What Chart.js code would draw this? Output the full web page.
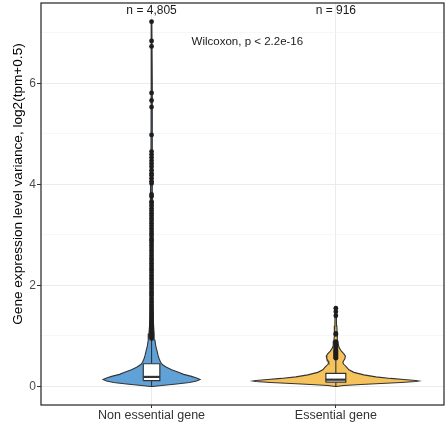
<!DOCTYPE html>
<html><head><meta charset="utf-8">
<script src="https://cdn.jsdelivr.net/npm/chart.js@4.4.1/dist/chart.umd.min.js"></script>
<style>html,body{margin:0;padding:0;background:#fff}#wrap{width:445px;height:426px}</style>
</head><body><div id="wrap"><canvas id="c" width="445" height="426"></canvas></div>
<script>
// ---------- data ----------
const categories = ['Non essential gene', 'Essential gene'];
const groupCounts = ['n = 4,805', 'n = 916'];
const testLabel = 'Wilcoxon, p < 2.2e-16';
const yTitle = 'Gene expression level variance, log2(tpm+0.5)';
const yTicks = [0, 1, 2, 3, 4, 5, 6, 7];

// violin outline: value and half-width (density, in category units)
const nonEssViolinY = [0.00,0.02,0.05,0.08,0.11,0.14,0.17,0.20,0.24,0.28,0.33,0.38,0.43,0.48,0.55,0.62,0.70,0.80,0.92,1.05,1.20,1.50,2.00,3.00,4.50,6.00,7.22];
const nonEssViolinW = [0.005,0.054,0.136,0.206,0.244,0.263,0.244,0.217,0.174,0.146,0.109,0.081,0.060,0.049,0.041,0.035,0.030,0.023,0.018,0.014,0.011,0.0076,0.0054,0.0043,0.0033,0.0027,0.0016];
const essViolinY = [0.00,0.02,0.04,0.06,0.08,0.10,0.11,0.12,0.14,0.16,0.19,0.23,0.28,0.33,0.39,0.44,0.47,0.50,0.55,0.60,0.65,0.70,0.76,0.82,0.90,1.00,1.20,1.40,1.55];
const essViolinW = [0.0027,0.043,0.136,0.244,0.353,0.434,0.45,0.434,0.369,0.298,0.217,0.152,0.098,0.071,0.057,0.043,0.038,0.041,0.049,0.052,0.043,0.030,0.019,0.014,0.011,0.008,0.0054,0.0043,0.0022];

// box stats: [lower whisker, Q1, median, Q3, upper whisker]
const nonEssBox = [0.0, 0.115, 0.19, 0.45, 0.945];
const essBox = [0.0, 0.085, 0.135, 0.26, 0.555];

const nonEssOutliers = [0.95,0.98,1.01,1.04,1.08,1.11,1.15,1.19,1.22,1.26,1.30,1.34,1.38,1.42,1.46,1.50,1.54,1.58,1.62,1.67,1.71,1.75,1.80,1.84,1.88,1.93,1.97,2.02,2.06,2.11,2.15,2.20,2.25,2.30,2.34,2.39,2.44,2.49,2.54,2.59,2.64,2.69,2.74,2.79,2.84,2.89,2.92,2.98,3.03,3.08,3.13,3.18,3.23,3.28,3.33,3.38,3.43,3.48,3.53,3.58,3.63,3.66,3.76,3.80,4.02,4.06,4.12,4.18,4.22,4.28,4.35,4.41,4.47,4.53,4.59,4.65,4.98,5.53,5.66,5.81,6.73,6.84,7.22];
const essOutliers = [0.56,0.58,0.60,0.62,0.64,0.66,0.68,0.70,0.72,0.74,0.76,0.78,0.80,0.83,0.86,0.89,1.03,1.05,1.40,1.48,1.55];

// ---------- styling ----------
const fills = ['#60a2d8', '#f5c25c'];
const outline = '#333333';
const boxHalf = [0.045, 0.054];
const AREA = {left: 41, right: 444, top: 3, bottom: 405};

function violin(cx, ys, ws) {
  const pts = ys.map((y, i) => ({x: cx + ws[i], y}));
  for (let i = ys.length - 1; i >= 0; i--) pts.push({x: cx - ws[i], y: ys[i]});
  pts.push({x: cx + ws[0], y: ys[0]});
  return pts;
}
function rect(cx, hw, lo, hi) {
  return [{x: cx - hw, y: lo}, {x: cx + hw, y: lo}, {x: cx + hw, y: hi}, {x: cx - hw, y: hi}, {x: cx - hw, y: lo}];
}

const groups = [
  {vy: nonEssViolinY, vw: nonEssViolinW, box: nonEssBox, out: nonEssOutliers},
  {vy: essViolinY, vw: essViolinW, box: essBox, out: essOutliers}
];
const datasets = [];
groups.forEach((g, i) => {
  const cx = i + 1;
  const hw = boxHalf[i];
  datasets.push({type: 'line', data: violin(cx, g.vy, g.vw), fill: 'shape', backgroundColor: fills[i],
    borderColor: outline, borderWidth: 1.1, pointRadius: 0, tension: 0, order: 10});
  datasets.push({type: 'line', data: [{x: cx, y: g.box[0]}, {x: cx, y: g.box[1]}], borderColor: outline, borderWidth: 1.1, pointRadius: 0, fill: false, order: 8});
  datasets.push({type: 'line', data: [{x: cx, y: g.box[3]}, {x: cx, y: g.box[4]}], borderColor: outline, borderWidth: 1.1, pointRadius: 0, fill: false, order: 8});
  datasets.push({type: 'line', data: rect(cx, hw, g.box[1], g.box[3]), fill: 'shape', backgroundColor: '#ffffff',
    borderColor: outline, borderWidth: 1.2, pointRadius: 0, tension: 0, order: 7});
  datasets.push({type: 'line', data: [{x: cx - hw, y: g.box[2]}, {x: cx + hw, y: g.box[2]}], borderColor: outline, borderWidth: 2.2, pointRadius: 0, fill: false, order: 6});
  datasets.push({type: 'scatter', data: g.out.map(v => ({x: cx, y: v})), pointRadius: 2.4, pointBackgroundColor: '#1e1e1e',
    pointBorderWidth: 0, borderWidth: 0, showLine: false, order: 1});
});

const FONT = "'Liberation Sans', Arial, Helvetica, sans-serif";
Chart.defaults.font.family = FONT;

const areaPlugin = {
  id: 'fixArea',
  afterLayout(chart) {
    const ca = chart.chartArea, xs = chart.scales.x, ys = chart.scales.y;
    ca.left = AREA.left; ca.right = AREA.right; ca.top = AREA.top; ca.bottom = AREA.bottom;
    ca.width = ca.right - ca.left; ca.height = ca.bottom - ca.top;
    xs.left = ca.left; xs.right = ca.right; xs.width = ca.width;
    xs.top = ca.bottom; xs.bottom = ca.bottom + 21; xs.height = 21;
    xs.configure();
    ys.top = ca.top; ys.bottom = ca.bottom; ys.height = ca.height;
    ys.left = 0; ys.right = ca.left; ys.width = ca.left;
    ys.configure();
  }
};

const framePlugin = {
  id: 'frame',
  afterDraw(chart) {
    const {ctx, chartArea: a, scales} = chart;
    ctx.save();
    ctx.strokeStyle = '#333333';
    ctx.lineWidth = 1.3;
    ctx.strokeRect(a.left, a.top, a.right - a.left, a.bottom - a.top);
    ctx.fillStyle = '#1a1a1a';
    ctx.font = '12px ' + FONT;
    ctx.textAlign = 'center';
    ctx.textBaseline = 'middle';
    groupCounts.forEach((t, i) => {
      ctx.fillText(t, scales.x.getPixelForValue(i + 1), scales.y.getPixelForValue(7.44));
    });
    ctx.font = '11.5px ' + FONT;
    ctx.fillText(testLabel, scales.x.getPixelForValue(1.52), scales.y.getPixelForValue(6.83));
    // y axis title
    ctx.translate(18, 184);
    ctx.rotate(-Math.PI / 2);
    ctx.fillStyle = '#000';
    ctx.font = '13.6px ' + FONT;
    ctx.fillText(yTitle, 0, 0);
    ctx.restore();
  }
};

new Chart(document.getElementById('c'), {
  type: 'line',
  data: {datasets},
  options: {
    responsive: false, animation: false, devicePixelRatio: 1,
    layout: {padding: {top: 3, right: 1, left: 0, bottom: 0}},
    plugins: {legend: {display: false}, tooltip: {enabled: false}},
    scales: {
      x: {
        type: 'linear', min: 0.4, max: 2.587,
        afterBuildTicks: s => { s.ticks = [{value: 1}, {value: 2}]; },
        afterFit: s => { s.height = 21; s.paddingLeft = 0; s.paddingRight = 0; s.paddingTop = 0; s.paddingBottom = 0; },
        border: {display: false},
        grid: {color: '#ebebeb', lineWidth: 1, tickColor: '#333', tickLength: 3},
        ticks: {callback: v => categories[v - 1] || '', color: '#333', font: {size: 12.5}, padding: 0, maxRotation: 0, autoSkip: false}
      },
      y: {
        type: 'linear', min: -0.366, max: 7.59,
        afterBuildTicks: s => { s.ticks = yTicks.map(v => ({value: v})); },
        afterFit: s => { s.width = 41; s.paddingLeft = 0; s.paddingRight = 0; s.paddingTop = 0; s.paddingBottom = 0; },
        border: {display: false},
        grid: {
          color: c => (c.tick && c.tick.value % 2) ? '#f3f3f3' : '#ebebeb',
          lineWidth: c => (c.tick && c.tick.value % 2) ? 0.7 : 1,
          tickColor: c => (c.tick && c.tick.value % 2) ? 'rgba(0,0,0,0)' : '#333',
          tickLength: 4
        },
        ticks: {callback: v => (v % 2 === 0 ? String(v) : ''), color: '#4d4d4d', font: {size: 12}, padding: 1, autoSkip: false},
        title: {display: false}
      }
    }
  },
  plugins: [areaPlugin, framePlugin]
});
</script></body></html>
